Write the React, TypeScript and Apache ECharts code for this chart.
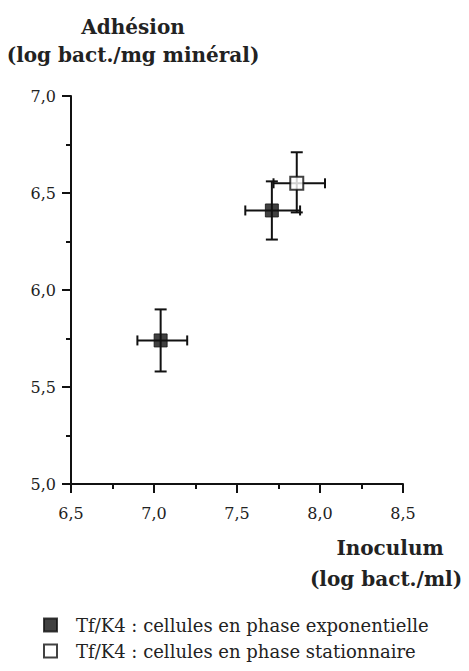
import React, { useEffect, useRef } from "react";
import * as echarts from "echarts";

const seriesNames = [
  "Tf/K4 : cellules en phase exponentielle",
  "Tf/K4 : cellules en phase stationnaire",
];
// [x, y, xLow, xHigh, yLow, yHigh]
const exponentialPoints = [
  [7.04, 5.74, 6.9, 7.2, 5.58, 5.9],
  [7.71, 6.41, 7.55, 7.88, 6.26, 6.56],
];
const stationaryPoints = [[7.86, 6.55, 7.72, 8.03, 6.4, 6.71]];
const xTicks = { min: 6.5, max: 8.5, interval: 0.5 };
const yTicks = { min: 5.0, max: 7.0, interval: 0.5 };
const yTitle = ["Adhésion", "(log bact./mg minéral)"];
const xTitle = ["Inoculum", "(log bact./ml)"];

const FONT = "'DejaVu Serif', 'Liberation Serif', serif";

export default function App() {
  const ref = useRef<HTMLDivElement>(null);
  useEffect(() => {
    if (!ref.current) return;
    const chart = echarts.init(ref.current, undefined, { renderer: "svg" });
    const fmt = (v: number) => v.toFixed(1).replace(".", ",");
    const errorData = [...exponentialPoints, ...stationaryPoints];
    const axisCommon = {
      axisLine: { lineStyle: { color: "#111", width: 2 } },
      axisTick: { show: true, inside: false, length: 9, lineStyle: { color: "#111", width: 2 } },
      minorTick: { show: true, splitNumber: 2, length: 5, lineStyle: { color: "#111", width: 2 } },
      splitLine: { show: false },
      minorSplitLine: { show: false },
    };
    chart.setOption({
      animation: false,
      backgroundColor: "#fff",
      grid: { left: 71, right: 66, top: 96, bottom: 187, containLabel: false },
      xAxis: {
        type: "value",
        ...xTicks,
        ...axisCommon,
        axisLabel: { formatter: fmt, color: "#222", fontFamily: FONT, fontSize: 16, margin: 21 },
      },
      yAxis: {
        type: "value",
        ...yTicks,
        ...axisCommon,
        axisLabel: { formatter: fmt, color: "#222", fontFamily: FONT, fontSize: 16, margin: 15 },
      },
      legend: {
        orient: "vertical",
        left: 43,
        top: 616,
        height: 54,
        padding: 0,
        itemGap: 8,
        itemWidth: 13,
        itemHeight: 13,
        data: seriesNames,
        textStyle: { fontFamily: FONT, fontSize: 18, color: "#222", padding: [0, 0, 0, 14] },
      },
      graphic: [
        { type: "text", x: 133, y: 17, style: { text: yTitle[0], textAlign: "center", font: `bold 20px ${FONT}`, fill: "#222" } },
        { type: "text", x: 133, y: 45, style: { text: yTitle[1], textAlign: "center", font: `bold 20px ${FONT}`, fill: "#222" } },
        { type: "text", x: 390, y: 538, style: { text: xTitle[0], textAlign: "center", font: `bold 20px ${FONT}`, fill: "#222" } },
        { type: "text", x: 386, y: 569, style: { text: xTitle[1], textAlign: "center", font: `bold 20px ${FONT}`, fill: "#222" } },
      ],
      series: [
        {
          type: "custom",
          name: "errors",
          z: 1,
          data: errorData,
          encode: { x: 0, y: 1 },
          renderItem: (params: any, api: any) => {
            const x = api.value(0), y = api.value(1);
            const xl = api.coord([api.value(2), y]);
            const xh = api.coord([api.value(3), y]);
            const yl = api.coord([x, api.value(4)]);
            const yh = api.coord([x, api.value(5)]);
            const style = { stroke: "#111", lineWidth: 2 };
            const c = 5;
            const ln = (x1: number, y1: number, x2: number, y2: number) => ({
              type: "line",
              shape: { x1, y1, x2, y2 },
              style,
            });
            return {
              type: "group",
              children: [
                ln(xl[0], xl[1], xh[0], xh[1]),
                ln(xl[0], xl[1] - c, xl[0], xl[1] + c),
                ln(xh[0], xh[1] - c, xh[0], xh[1] + c),
                ln(yl[0], yl[1], yh[0], yh[1]),
                ln(yl[0] - c - 1, yl[1], yl[0] + c + 1, yl[1]),
                ln(yh[0] - c - 1, yh[1], yh[0] + c + 1, yh[1]),
              ],
            };
          },
        },
        {
          type: "scatter",
          name: seriesNames[0],
          z: 3,
          symbol: "rect",
          symbolSize: 13,
          itemStyle: { color: "#111", borderColor: "#111", borderWidth: 1 },
          data: exponentialPoints.map((p) => [p[0], p[1]]),
        },
        {
          type: "scatter",
          name: seriesNames[1],
          z: 3,
          symbol: "rect",
          symbolSize: 13,
          itemStyle: { color: "#fff", borderColor: "#111", borderWidth: 2 },
          data: stationaryPoints.map((p) => [p[0], p[1]]),
        },
      ],
    });
    return () => chart.dispose();
  }, []);
  return <div ref={ref} style={{ width: 469, height: 671, margin: -8 }} />;
}
